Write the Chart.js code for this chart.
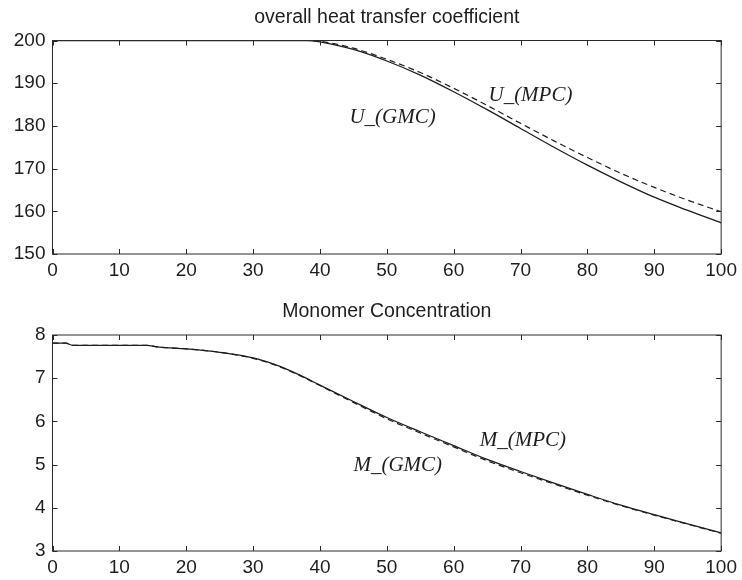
<!DOCTYPE html>
<html>
<head>
<meta charset="utf-8">
<title>Heat transfer coefficient and monomer concentration</title>
<script src="https://cdn.jsdelivr.net/npm/chart.js@4.4.1/dist/chart.umd.min.js"></script>
<style>
  html, body { margin: 0; padding: 0; background: #fff; }
  #wrap { position: relative; width: 742px; height: 580px; overflow: hidden; }
  .panel { position: absolute; left: 0; width: 742px; height: 290px; }
  #panel-u { top: 0; }
  #panel-m { top: 290px; }
</style>
</head>
<body>
<div id="wrap">
  <div class="panel" id="panel-u"><canvas id="heat-chart" width="742" height="290"></canvas></div>
  <div class="panel" id="panel-m"><canvas id="monomer-chart" width="742" height="290"></canvas></div>
</div>
<script>
  // time axis ticks (shared by both panels)
  const xTicks = [0, 10, 20, 30, 40, 50, 60, 70, 80, 90, 100];

  // overall heat transfer coefficient U
  const heatTime = [0, 10, 20, 30, 38, 40, 45, 50, 55, 60, 65, 70, 75, 80, 85, 90, 95, 100];
  const heatGMC = [200, 200, 200, 200, 200, 199.7, 197.9, 195.2, 191.9, 188.0, 183.8, 179.4, 175.0, 170.8, 166.9, 163.3, 160.2, 157.3];
  const heatMPC = [200, 200, 200, 200, 200, 199.8, 198.2, 195.6, 192.5, 188.8, 184.8, 180.6, 176.5, 172.6, 168.9, 165.6, 162.6, 159.9];
  const heatTicks = [150, 160, 170, 180, 190, 200];

  // monomer concentration M
  const monoTime = [0, 2, 3, 10, 14, 16, 20, 25, 30, 33, 35, 37, 40, 45, 50, 55, 60, 65, 70, 75, 80, 85, 90, 95, 100];
  const monoGMC = [7.81, 7.81, 7.76, 7.76, 7.76, 7.72, 7.68, 7.60, 7.47, 7.33, 7.21, 7.07, 6.84, 6.46, 6.09, 5.76, 5.44, 5.12, 4.84, 4.57, 4.31, 4.06, 3.84, 3.63, 3.42];
  const monoMPC = [7.81, 7.81, 7.76, 7.76, 7.76, 7.72, 7.68, 7.60, 7.46, 7.32, 7.20, 7.06, 6.83, 6.44, 6.06, 5.73, 5.41, 5.09, 4.81, 4.55, 4.29, 4.05, 3.83, 3.62, 3.41];
  const monoTicks = [3, 4, 5, 6, 7, 8];

  const INK = '#1e1e1e';
  const SANS = '"Liberation Sans", Arial, sans-serif';

  // box around the plot area with inward tick marks on all four sides,
  // plus the in-plot curve names
  const frameTicks = {
    id: 'frameTicks',
    afterDatasetsDraw(chart, args, opts) {
      const { ctx, chartArea: a, scales: { x, y } } = chart;
      const len = 5;
      ctx.save();
      ctx.strokeStyle = '#2a2a2a';
      ctx.lineWidth = 1;
      ctx.strokeRect(a.left, a.top, a.right - a.left, a.bottom - a.top);
      ctx.beginPath();
      x.ticks.forEach((t) => {
        const px = Math.round(x.getPixelForValue(t.value)) + 0.5;
        ctx.moveTo(px, a.bottom);
        ctx.lineTo(px, a.bottom - len);
        ctx.moveTo(px, a.top);
        ctx.lineTo(px, a.top + len);
      });
      y.ticks.forEach((t) => {
        const py = Math.round(y.getPixelForValue(t.value)) + 0.5;
        ctx.moveTo(a.left, py);
        ctx.lineTo(a.left + len, py);
        ctx.moveTo(a.right, py);
        ctx.lineTo(a.right - len, py);
      });
      ctx.stroke();

      ctx.fillStyle = INK;
      ctx.font = 'italic 21px "Liberation Serif", "Times New Roman", serif';
      ctx.textAlign = 'left';
      ctx.textBaseline = 'middle';
      (opts.notes || []).forEach((n) => {
        ctx.fillText(n.text, x.getPixelForValue(n.x), y.getPixelForValue(n.y));
      });
      ctx.restore();
    }
  };

  function toPoints(xs, ys) {
    return xs.map((v, i) => ({ x: v, y: ys[i] }));
  }

  function buildChart(canvasId, cfg) {
    return new Chart(document.getElementById(canvasId), {
      type: 'line',
      data: {
        datasets: [
          {
            label: cfg.names[0],
            data: toPoints(cfg.time, cfg.solid),
            borderColor: INK,
            borderWidth: 1.3,
            pointRadius: 0,
            cubicInterpolationMode: 'monotone',
            fill: false
          },
          {
            label: cfg.names[1],
            data: toPoints(cfg.time, cfg.dashed),
            borderColor: INK,
            borderWidth: 1.2,
            borderDash: [6, 4],
            pointRadius: 0,
            cubicInterpolationMode: 'monotone',
            fill: false
          }
        ]
      },
      options: {
        responsive: false,
        animation: false,
        events: [],
        layout: { padding: { left: 0, right: 20, top: 0, bottom: 0 } },
        scales: {
          x: {
            type: 'linear',
            min: 0,
            max: 100,
            afterBuildTicks: (s) => { s.ticks = xTicks.map((v) => ({ value: v })); },
            afterFit: (s) => { s.height = cfg.xHeight; },
            grid: { display: false, drawTicks: false },
            border: { display: false },
            ticks: {
              autoSkip: false,
              maxRotation: 0,
              padding: 5,
              color: INK,
              font: { family: SANS, size: 19 }
            }
          },
          y: {
            type: 'linear',
            min: cfg.yTicks[0],
            max: cfg.yTicks[cfg.yTicks.length - 1],
            afterBuildTicks: (s) => { s.ticks = cfg.yTicks.map((v) => ({ value: v })); },
            afterFit: (s) => { s.width = 52.5; },
            grid: { display: false, drawTicks: false },
            border: { display: false },
            ticks: {
              padding: 7,
              color: INK,
              font: { family: SANS, size: 19 }
            }
          }
        },
        plugins: {
          legend: { display: false },
          tooltip: { enabled: false },
          title: {
            display: true,
            fullSize: false,
            text: cfg.title,
            color: INK,
            font: { family: SANS, size: 19.5, weight: 'normal' },
            padding: cfg.titlePadding
          },
          frameTicks: { notes: cfg.notes }
        }
      },
      plugins: [frameTicks]
    });
  }

  buildChart('heat-chart', {
    title: 'overall heat transfer coefficient',
    titlePadding: { top: 6.3, bottom: 10.8 },
    names: ['U_(GMC)', 'U_(MPC)'],
    time: heatTime,
    solid: heatGMC,
    dashed: heatMPC,
    yTicks: heatTicks,
    xHeight: 36,
    notes: [
      { text: 'U_(GMC)', x: 44.4, y: 181.9 },
      { text: 'U_(MPC)', x: 65.2, y: 187.2 }
    ]
  });

  buildChart('monomer-chart', {
    title: 'Monomer Concentration',
    titlePadding: { top: 10.3, bottom: 11.3 },
    names: ['M_(GMC)', 'M_(MPC)'],
    time: monoTime,
    solid: monoGMC,
    dashed: monoMPC,
    yTicks: monoTicks,
    xHeight: 29,
    notes: [
      { text: 'M_(GMC)', x: 45.0, y: 4.99 },
      { text: 'M_(MPC)', x: 63.9, y: 5.55 }
    ]
  });
</script>
</body>
</html>
